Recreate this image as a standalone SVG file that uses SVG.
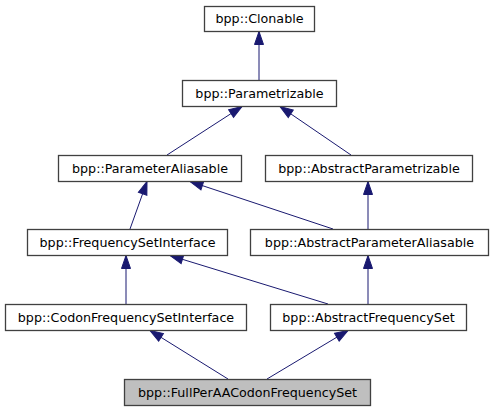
<svg xmlns="http://www.w3.org/2000/svg" width="492" height="411" viewBox="0 0 492 411">
<style>
.n rect{fill:#fff;stroke:#404040;stroke-width:1.3}
.n.cur rect{fill:#bfbfbf}
.n text{font-family:"DejaVu Sans",sans-serif;font-size:12.7px;text-anchor:middle;fill:#000}
.e line{stroke:#191970;stroke-width:1;marker-end:url(#ah)}
</style>
<defs>
<marker id="ah" markerUnits="userSpaceOnUse" markerWidth="16" markerHeight="12" refX="13" refY="5" orient="auto" viewBox="-1 -1 16 12">
<path d="M0,0.5 L13,5 L0,9.5 Z" fill="#191970" stroke="#191970"/>
</marker>
</defs>
<rect width="492" height="411" fill="#fff"/>
<g id="edges" class="e">
<line x1="259" y1="80" x2="259" y2="31.5"/>
<line x1="167" y1="155" x2="242" y2="106.5"/>
<line x1="351" y1="155" x2="280" y2="106.5"/>
<line x1="130" y1="229" x2="147" y2="181.5"/>
<line x1="333" y1="229" x2="190" y2="181.5"/>
<line x1="368" y1="229" x2="368" y2="181.5"/>
<line x1="126" y1="304" x2="126" y2="255.5"/>
<line x1="328" y1="304" x2="170" y2="255.5"/>
<line x1="368" y1="304" x2="368" y2="255.5"/>
<line x1="228" y1="379" x2="150" y2="330.5"/>
<line x1="267" y1="379" x2="348" y2="330.5"/>
</g>
<g id="clonable" class="n"><rect x="204.5" y="6.5" width="110" height="25"/><text x="259.5" y="23">bpp::Clonable</text></g>
<g id="parametrizable" class="n"><rect x="182.5" y="80.5" width="154" height="26"/><text x="259.5" y="97.5">bpp::Parametrizable</text></g>
<g id="parameterAliasable" class="n"><rect x="58.5" y="155.5" width="183" height="26"/><text x="150" y="172.5">bpp::ParameterAliasable</text></g>
<g id="abstractParametrizable" class="n"><rect x="265.5" y="155.5" width="207" height="26"/><text x="369" y="172.5">bpp::AbstractParametrizable</text></g>
<g id="frequencySetInterface" class="n"><rect x="27.5" y="229.5" width="200" height="26"/><text x="127.5" y="246.5">bpp::FrequencySetInterface</text></g>
<g id="abstractParameterAliasable" class="n"><rect x="250.5" y="229.5" width="238" height="26"/><text x="369.5" y="246.5">bpp::AbstractParameterAliasable</text></g>
<g id="codonFrequencySetInterface" class="n"><rect x="5.5" y="304.5" width="241" height="26"/><text x="126" y="321.5">bpp::CodonFrequencySetInterface</text></g>
<g id="abstractFrequencySet" class="n"><rect x="270.5" y="304.5" width="196" height="26"/><text x="368.5" y="321.5">bpp::AbstractFrequencySet</text></g>
<g id="fullPerAACodonFrequencySet" class="n cur"><rect x="124.5" y="379.5" width="246" height="26"/><text x="247.5" y="396.5">bpp::FullPerAACodonFrequencySet</text></g>
</svg>
